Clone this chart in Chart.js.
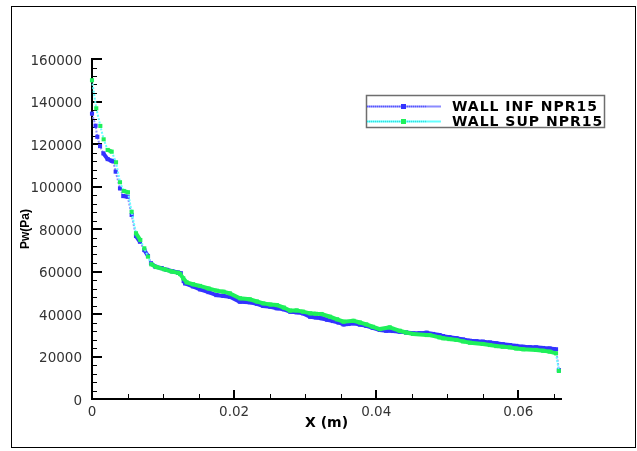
<!DOCTYPE html>
<html><head><meta charset="utf-8">
<script src="https://cdn.jsdelivr.net/npm/chart.js@4.4.0/dist/chart.umd.min.js"></script>
<style>html,body{margin:0;padding:0;background:#fff}#wrap{width:637px;height:451px}</style>
</head><body><div id="wrap"><canvas id="c" width="637" height="451"></canvas></div>
<script>
// ---- data ----
const seriesLabels = ['WALL INF NPR15', 'WALL SUP NPR15'];
const xInf = [0, 0.0005, 0.00075, 0.00113, 0.0016, 0.0022, 0.00277, 0.0030, 0.00333, 0.00394, 0.0044, 0.00502, 0.00558, 0.00619, 0.00675, 0.00736, 0.00788, 0.0083, 0.0089, 0.0098, 0.0105, 0.0113, 0.0121, 0.0125, 0.0129, 0.0131, 0.0142, 0.0152, 0.0164, 0.0175, 0.0185, 0.0194, 0.0208, 0.0222, 0.0232, 0.0241, 0.0251, 0.026, 0.0270, 0.0279, 0.0288, 0.0297, 0.0307, 0.0315, 0.0323, 0.0331, 0.0339, 0.0347, 0.0354, 0.0361, 0.0368, 0.0377, 0.0386, 0.0395, 0.0405, 0.0414, 0.0424, 0.0433, 0.0442, 0.0452, 0.0461, 0.0471, 0.048, 0.0489, 0.0494, 0.0503, 0.0513, 0.0522, 0.0532, 0.0541, 0.055, 0.0560, 0.0569, 0.0578, 0.0588, 0.0597, 0.0607, 0.0616, 0.0625, 0.0635, 0.0644, 0.0653, 0.0657];
const pInf = [134300, 128600, 123400, 119000, 115600, 112900, 112100, 111800, 107000, 99100, 95500, 95200, 86600, 76700, 74000, 70100, 67300, 63900, 62300, 61600, 60800, 60100, 59500, 59200, 55500, 54400, 53000, 51600, 50300, 48900, 48500, 48100, 45800, 45500, 44800, 43800, 43400, 42700, 42200, 41100, 40800, 40300, 38700, 38400, 38000, 37300, 36700, 36000, 35100, 35300, 35600, 35000, 34400, 33500, 32500, 32100, 32000, 31700, 31300, 30900, 31000, 31200, 30600, 30100, 29600, 29100, 28600, 28000, 27400, 27200, 27000, 26600, 26200, 25800, 25400, 25000, 24600, 24400, 24300, 24000, 23800, 23400, 13600];
const xSup = [0, 0.0006, 0.00117, 0.00164, 0.0022, 0.00277, 0.00338, 0.00394, 0.00445, 0.00506, 0.00558, 0.00619, 0.0068, 0.00736, 0.00788, 0.00834, 0.00905, 0.0102, 0.0112, 0.01214, 0.0124, 0.01284, 0.01332, 0.0142, 0.01519, 0.0164, 0.01754, 0.0185, 0.0194, 0.02082, 0.0222, 0.0232, 0.0241, 0.0251, 0.026, 0.0270, 0.02785, 0.0288, 0.0297, 0.0307, 0.0315, 0.0323, 0.0335, 0.0345, 0.0354, 0.0368, 0.0377, 0.0386, 0.0395, 0.0405, 0.0419, 0.0433, 0.0442, 0.0452, 0.0471, 0.0475, 0.0489, 0.0494, 0.0503, 0.0513, 0.0522, 0.0532, 0.055, 0.0560, 0.0569, 0.0578, 0.0588, 0.0597, 0.0607, 0.0625, 0.0635, 0.0644, 0.0653, 0.0657];
const pSup = [150000, 136800, 128500, 122200, 117200, 116400, 111400, 102000, 97900, 97300, 88100, 78000, 74800, 70900, 67000, 63400, 62100, 61000, 60000, 59400, 58800, 56800, 54900, 54000, 53200, 52000, 51000, 50500, 49700, 47400, 46900, 45900, 45000, 44500, 44200, 43000, 41600, 41700, 41100, 40300, 40100, 40000, 38700, 37500, 36400, 36800, 36000, 35100, 34000, 32900, 33700, 32100, 31300, 30600, 30100, 30100, 29000, 28600, 28200, 27800, 27100, 26500, 25900, 25400, 24900, 24600, 24300, 23800, 23400, 23100, 22700, 22300, 21500, 13200];
const xAxisTitle = 'X (m)';
const yAxisTitle = 'Pw(Pa)';

// ---- styles ----
const STYLE = [
  {main: '#3333ff', light: '#8c8cff', dot: '#5555ff'},
  {main: '#1ef05a', light: '#66ffff', dot: '#33dddd'}
];
const Y_MINOR = 4000, Y_MAJOR = 20000, X_MINOR = 0.005, X_PER_MAJOR = 4;

function steep(ctx) {
  const dx = Math.abs(ctx.p1.x - ctx.p0.x), dy = Math.abs(ctx.p1.y - ctx.p0.y);
  return dy > 1.8 * dx;
}
function makeDataset(i, xs, ys, order) {
  const st = STYLE[i];
  return {
    label: seriesLabels[i],
    data: xs.map((x, k) => ({x: x, y: ys[k]})),
    showLine: true,
    borderColor: st.main,
    borderWidth: 4,
    pointStyle: 'rect',
    pointRadius: 2.9,
    pointHoverRadius: 2.9,
    pointBackgroundColor: st.main,
    pointBorderWidth: 0,
    clip: 8,
    order: order,
    segment: {
      borderColor: c => steep(c) ? st.light : st.main,
      borderWidth: c => steep(c) ? 2 : 4,
      borderDash: c => steep(c) ? [2, 1.5] : []
    }
  };
}

const decoPlugin = {
  id: 'deco',
  beforeDraw(chart) {
    const c = chart.ctx; c.save(); c.fillStyle = '#fff'; c.fillRect(0, 0, chart.width, chart.height); c.restore();
  },
  beforeDatasetsDraw(chart) {
    const c = chart.ctx, xs = chart.scales.x, ys = chart.scales.y, a = chart.chartArea;
    c.save(); c.strokeStyle = '#000';
    for (let i = 0; i * Y_MINOR <= ys.max + 1e-6; i++) {
      const v = i * Y_MINOR, major = (v % Y_MAJOR) === 0;
      const py = Math.round(ys.getPixelForValue(v));
      c.lineWidth = major ? 2 : 1;
      const yy = major ? py : py + 0.5;
      c.beginPath(); c.moveTo(a.left, yy); c.lineTo(a.left + (major ? 10 : 5), yy); c.stroke();
    }
    for (let i = 0; i * X_MINOR <= xs.max + 1e-9; i++) {
      const major = i % X_PER_MAJOR === 0;
      const px = Math.round(xs.getPixelForValue(i * X_MINOR));
      c.lineWidth = major ? 2 : 1;
      const xx = major ? px : px + 0.5;
      c.beginPath(); c.moveTo(xx, a.bottom); c.lineTo(xx, a.bottom - (major ? 9 : 5)); c.stroke();
    }
    c.restore();
  },
  afterDraw(chart) {
    const c = chart.ctx; c.save();
    c.strokeStyle = '#000'; c.lineWidth = 1;
    c.strokeRect(11.5, 6.5, 624, 441);
    // legend
    c.strokeStyle = '#6e6e6e'; c.lineWidth = 1.5;
    c.strokeRect(366.5, 95.5, 238, 32);
    const rows = [106.5, 121.5];
    chart.data.datasets.forEach((ds, i) => {
      const st = STYLE[i], y = rows[i];
      c.setLineDash([]); c.strokeStyle = st.light; c.lineWidth = 2;
      c.beginPath(); c.moveTo(367, y); c.lineTo(441, y); c.stroke();
      c.setLineDash([1, 1]); c.strokeStyle = st.dot; c.lineWidth = 1.5;
      c.beginPath(); c.moveTo(367, y); c.lineTo(426, y); c.stroke();
      c.setLineDash([]);
      c.fillStyle = st.main; c.fillRect(401, y - 2.5, 5, 5);
      c.fillStyle = '#000'; c.font = 'bold 14px "DejaVu Sans"';
      try { c.letterSpacing = '1px'; } catch (e) {}
      c.textBaseline = 'middle'; c.textAlign = 'left';
      c.fillText(ds.label, 452, y + 0.5);
      try { c.letterSpacing = '0px'; } catch (e) {}
    });
    c.restore();
  }
};

new Chart(document.getElementById('c'), {
  type: 'scatter',
  data: { datasets: [makeDataset(0, xInf, pInf, 1), makeDataset(1, xSup, pSup, 0)] },
  options: {
    responsive: false, animation: false, devicePixelRatio: 1,
    layout: { padding: { left: 0, top: 59, right: 76, bottom: 0 } },
    plugins: { legend: { display: false }, tooltip: { enabled: false } },
    scales: {
      x: {
        type: 'linear', min: 0, max: 0.066,
        grid: { display: true, drawOnChartArea: false, drawTicks: false },
        border: { display: true, color: '#000', width: 2 },
        ticks: {
          stepSize: 0.02, includeBounds: false, padding: 5, color: '#333',
          font: { family: '"DejaVu Sans"', size: 13.5 },
          callback: v => v === 0 ? '0' : String(+v.toFixed(3))
        },
        title: { display: true, text: xAxisTitle, color: '#000',
          font: { family: '"DejaVu Sans"', size: 14, weight: 'bold' }, padding: { top: 0, bottom: 19 } },
        afterFit: s => { s.height = 52; }
      },
      y: {
        type: 'linear', min: 0, max: 160000,
        grid: { display: true, drawOnChartArea: false, drawTicks: false },
        border: { display: true, color: '#000', width: 2 },
        ticks: {
          stepSize: 20000, padding: 10, labelOffset: 2, color: '#333',
          font: { family: '"DejaVu Sans"', size: 13.5 },
          callback: v => String(v)
        },
        title: { display: true, text: yAxisTitle, color: '#000',
          font: { family: '"Liberation Sans", Arial', size: 12, weight: 'bold' }, padding: { top: 18, bottom: 0 } },
        afterFit: s => { s.width = 92; }
      }
    }
  },
  plugins: [decoPlugin]
});
</script></body></html>
